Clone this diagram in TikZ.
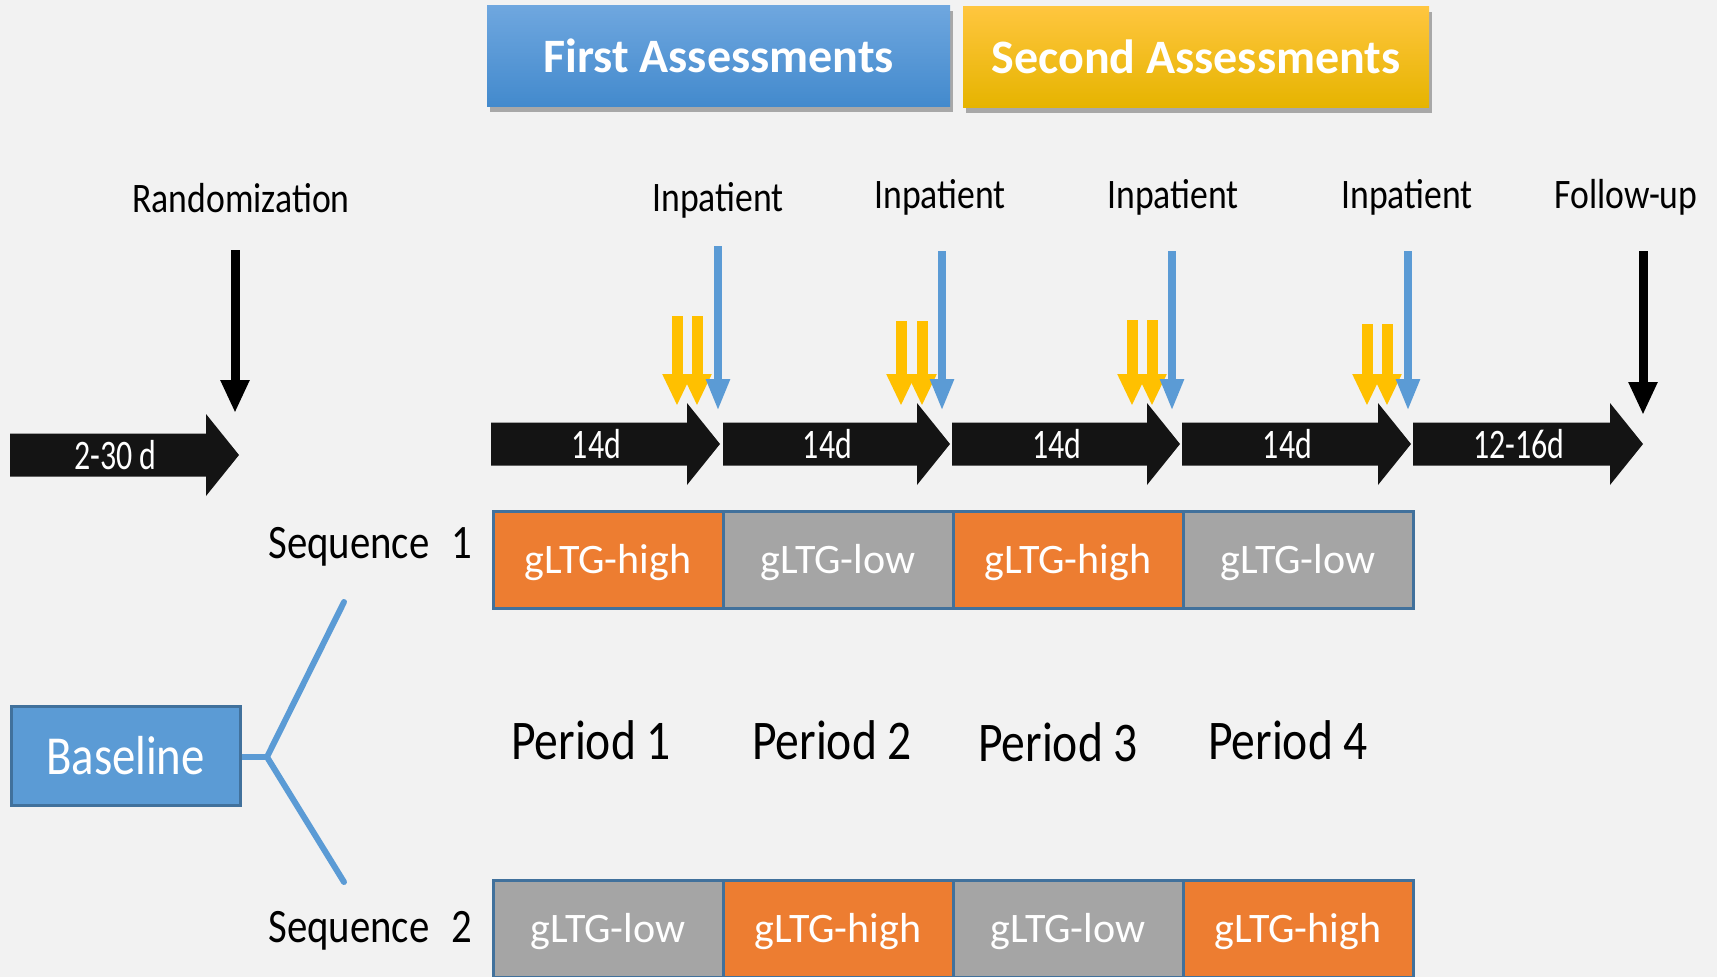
\documentclass[tikz,border=0pt]{standalone}
\usepackage{fontspec}
\setmainfont{Carlito}
\newfontfamily\narfont[FakeStretch=0.85]{Carlito}
\newfontfamily\nnarfont[FakeStretch=0.76]{Carlito}
\usetikzlibrary{arrows.meta,shadows}
\definecolor{bg}{HTML}{F2F2F2}
\definecolor{bblue}{HTML}{5B9BD5}
\definecolor{bord}{HTML}{41719C}
\definecolor{orng}{HTML}{ED7D31}
\definecolor{grey}{HTML}{A5A5A5}
\definecolor{yell}{HTML}{FFC000}
\definecolor{tbtop}{HTML}{6FA7DF}
\definecolor{tbbot}{HTML}{438ACD}
\definecolor{tytop}{HTML}{FFC63F}
\definecolor{tybot}{HTML}{E6B400}
\newcommand\tlarrow[5]{% x0, x1, yc, name, text
  \fill[black!92] (#1,#3-21.5) -- (#2-33,#3-21.5) -- (#2-33,#3-41) -- (#2,#3) -- (#2-33,#3+41) -- (#2-33,#3+21.5) -- (#1,#3+21.5) -- cycle;
  \node[daytxt] (#4) at ({(#1+#2)/2-9},#3) {#5};
}
\tikzset{
  toplbl/.style={font=\narfont\fontsize{42}{46}\selectfont, inner sep=0pt},
  seqlbl/.style={font=\narfont\fontsize{48}{52}\selectfont, anchor=east, inner sep=0pt},
  periodlbl/.style={font=\narfont\fontsize{56}{60}\selectfont, inner sep=0pt},
  daytxt/.style={font=\nnarfont\fontsize{42}{46}\selectfont, text=white, inner sep=0pt},
  cell/.style={draw=bord, line width=3pt, minimum width=230pt, minimum height=97pt, text=white, font=\fontsize{42}{46}\selectfont, inner sep=0pt, text depth=0pt, text height=0pt},
  hi/.style={cell, fill=orng},
  lo/.style={cell, fill=grey},
  blarrow/.style={draw=bblue, line width=8pt, -{Triangle[width=22pt,length=32pt]}},
  yarrow/.style={draw=yell, line width=11pt, -{Triangle[width=27pt,length=32pt]}},
  karrow/.style={draw=black, line width=9pt, -{Triangle[width=27pt,length=33pt]}},
  titlebox/.style={minimum height=101pt, text=white, font=\bfseries\fontsize{48}{52}\selectfont, inner sep=0pt,
    drop shadow={shadow xshift=3pt, shadow yshift=-6pt, opacity=0.3, fill=black}},
  fork/.style={draw=bblue, line width=6pt},
}
\begin{document}
\begin{tikzpicture}[x=1pt,y=-1pt]
\useasboundingbox (0,0) rectangle (1717,977);
\fill[bg] (0,0) rectangle (1717,977);

% title boxes
\node[titlebox, minimum width=463pt, top color=tbtop, bottom color=tbbot] (first) at (718.5,55.5) {First Assessments};
\node[titlebox, minimum width=466pt, top color=tytop, bottom color=tybot] (second) at (1196,56.5) {Second Assessments};

% top labels
\node[toplbl] (rand) at (241,198) {Randomization};
\node[toplbl] (inp1) at (718,200) {Inpatient};
\node[toplbl] (inp2) at (940,197) {Inpatient};
\node[toplbl] (inp3) at (1173,197) {Inpatient};
\node[toplbl] (inp4) at (1407,197) {Inpatient};
\node[toplbl] (fu) at (1626,197) {Follow-up};

% black timeline arrows
\tlarrow{10}{239}{455}{d0}{2-30 d}
\tlarrow{491}{720}{444}{d1}{14d}
\tlarrow{723}{950}{444}{d2}{14d}
\tlarrow{952}{1180}{444}{d3}{14d}
\tlarrow{1182}{1411}{444}{d4}{14d}
\tlarrow{1413}{1643}{444}{d5}{12-16d}

% down arrows
\coordinate (r0) at (235,250); \coordinate (r1) at (235,413);
\draw[karrow] (r0) -- (r1);
\coordinate (f0) at (1643,251); \coordinate (f1) at (1643,415);
\draw[karrow] (f0) -- (f1);

\foreach \ya/\yb/\bx/\bt/\yt in {677/697/718/246/316, 901/922/942/251/321, 1132/1152/1172/251/320, 1367/1387/1408/251/324}{
  \coordinate (ya0) at (\ya,\yt); \coordinate (ya1) at (\ya,406);
  \coordinate (yb0) at (\yb,\yt); \coordinate (yb1) at (\yb,406);
  \coordinate (bb0) at (\bx,\bt); \coordinate (bb1) at (\bx,411);
  \draw[yarrow] (ya0) -- (ya1);
  \draw[yarrow] (yb0) -- (yb1);
  \draw[blarrow] (bb0) -- (bb1);
}

% sequence 1
\node[hi] (s11) at (608,559.5) {\raisebox{-14pt}{gLTG-high}};
\node[lo] (s12) at (838,559.5) {\raisebox{-14pt}{gLTG-low}};
\node[hi] (s13) at (1068,559.5) {\raisebox{-14pt}{gLTG-high}};
\node[lo] (s14) at (1298,559.5) {\raisebox{-14pt}{gLTG-low}};
\node[seqlbl] (seq1) at (472,547) {Sequence\hspace{0.45em}1};

% periods
\node[periodlbl] (p1) at (591,740) {Period 1};
\node[periodlbl] (p2) at (832,740) {Period 2};
\node[periodlbl] (p3) at (1058,742) {Period 3};
\node[periodlbl] (p4) at (1288,740) {Period 4};

% sequence 2
\node[lo] (s21) at (608,928.5) {\raisebox{-14pt}{gLTG-low}};
\node[hi] (s22) at (838,928.5) {\raisebox{-14pt}{gLTG-high}};
\node[lo] (s23) at (1068,928.5) {\raisebox{-14pt}{gLTG-low}};
\node[hi] (s24) at (1298,928.5) {\raisebox{-14pt}{gLTG-high}};
\node[seqlbl] (seq2) at (472,931) {Sequence\hspace{0.45em}2};

% baseline and fork
\node[draw=bord, line width=3pt, fill=bblue, minimum width=229pt, minimum height=99pt, text=white,
  font=\narfont\fontsize{55}{58}\selectfont, inner sep=0pt] (base) at (125.5,756) {Baseline};
\coordinate (fk) at (267,757);
\coordinate (fu1) at (344,602);
\coordinate (fd1) at (344,882);
\draw[fork] (base.east |- fk) -- (fk);
\draw[fork, line cap=round] (fu1) -- (fk) -- (fd1);
\end{tikzpicture}
\end{document}
